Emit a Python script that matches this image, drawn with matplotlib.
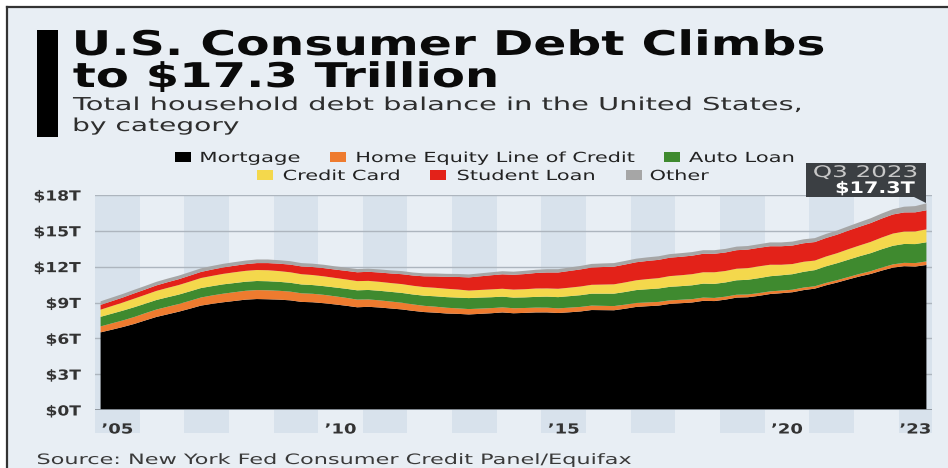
import matplotlib
matplotlib.use("Agg")
import matplotlib.pyplot as plt
from matplotlib.patches import Rectangle, Polygon
from matplotlib.lines import Line2D
from matplotlib.patheffects import AbstractPathEffect
from matplotlib.transforms import Affine2D
import numpy as np

# ---- data: household debt balance by category, $ trillions, quarterly 2005Q1-2023Q3
years_start = 2005
mortgage = [
    6.50, 6.72, 6.95, 7.20,
    7.50, 7.79, 8.01, 8.23,
    8.48, 8.74, 8.89, 9.02,
    9.13, 9.24, 9.29, 9.27,
    9.24, 9.18, 9.05, 9.02,
    8.94, 8.84, 8.73, 8.60,
    8.64, 8.58, 8.50, 8.42,
    8.30, 8.20, 8.15, 8.08,
    8.05, 8.00, 8.05, 8.10,
    8.17, 8.10, 8.13, 8.17,
    8.17, 8.12, 8.18, 8.25,
    8.37, 8.36, 8.35, 8.48,
    8.63, 8.69, 8.74, 8.88,
    8.94, 9.00, 9.14, 9.12,
    9.24, 9.41, 9.44, 9.56,
    9.71, 9.78, 9.86, 10.04,
    10.16, 10.44, 10.67, 10.93,
    11.18, 11.39, 11.67, 11.92,
    12.04, 12.01, 12.14,
]
heloc = [
    0.50, 0.53, 0.55, 0.58,
    0.60, 0.62, 0.63, 0.64,
    0.66, 0.68, 0.70, 0.72,
    0.73, 0.74, 0.75, 0.75,
    0.74, 0.73, 0.72, 0.71,
    0.70, 0.68, 0.66, 0.64,
    0.62, 0.60, 0.58, 0.56,
    0.54, 0.52, 0.50, 0.48,
    0.46, 0.45, 0.44, 0.43,
    0.42, 0.42, 0.41, 0.40,
    0.40, 0.39, 0.39, 0.38,
    0.37, 0.36, 0.35, 0.34,
    0.33, 0.32, 0.31, 0.30,
    0.29, 0.28, 0.27, 0.26,
    0.25, 0.24, 0.23, 0.23,
    0.22, 0.22, 0.21, 0.21,
    0.20, 0.20, 0.20, 0.20,
    0.21, 0.23, 0.25, 0.27,
    0.28, 0.29, 0.30,
]
auto_loan = [
    0.80, 0.81, 0.82, 0.82,
    0.80, 0.80, 0.80, 0.79,
    0.79, 0.79, 0.78, 0.78,
    0.77, 0.76, 0.76, 0.76,
    0.75, 0.74, 0.74, 0.73,
    0.73, 0.74, 0.76, 0.78,
    0.79, 0.80, 0.81, 0.82,
    0.83, 0.85, 0.87, 0.89,
    0.90, 0.92, 0.92, 0.91,
    0.90, 0.89, 0.89, 0.90,
    0.92, 0.94, 0.96, 0.98,
    1.00, 1.02, 1.04, 1.06,
    1.08, 1.10, 1.12, 1.13,
    1.14, 1.16, 1.17, 1.18,
    1.19, 1.21, 1.23, 1.25,
    1.27, 1.28, 1.30, 1.32,
    1.35, 1.39, 1.42, 1.45,
    1.48, 1.51, 1.54, 1.56,
    1.58, 1.59, 1.60,
]
credit_card = [
    0.60, 0.64, 0.68, 0.72,
    0.74, 0.76, 0.78, 0.80,
    0.82, 0.84, 0.86, 0.88,
    0.90, 0.91, 0.92, 0.92,
    0.90, 0.88, 0.86, 0.84,
    0.82, 0.80, 0.78, 0.77,
    0.76, 0.75, 0.74, 0.74,
    0.73, 0.72, 0.71, 0.70,
    0.68, 0.63, 0.64, 0.66,
    0.66, 0.67, 0.68, 0.70,
    0.69, 0.70, 0.71, 0.73,
    0.74, 0.76, 0.78, 0.80,
    0.82, 0.85, 0.87, 0.90,
    0.91, 0.93, 0.95, 0.97,
    0.96, 0.97, 0.98, 0.99,
    0.96, 0.88, 0.85, 0.84,
    0.80, 0.82, 0.84, 0.88,
    0.90, 0.94, 0.98, 1.02,
    1.04, 1.06, 1.08,
]
student_loan = [
    0.40, 0.41, 0.42, 0.44,
    0.45, 0.46, 0.48, 0.49,
    0.50, 0.51, 0.53, 0.54,
    0.55, 0.56, 0.58, 0.60,
    0.62, 0.64, 0.65, 0.67,
    0.69, 0.70, 0.72, 0.74,
    0.76, 0.78, 0.80, 0.83,
    0.86, 0.90, 0.95, 1.00,
    1.05, 1.10, 1.14, 1.18,
    1.21, 1.24, 1.27, 1.30,
    1.33, 1.36, 1.40, 1.43,
    1.45, 1.47, 1.48, 1.50,
    1.51, 1.52, 1.53, 1.54,
    1.55, 1.55, 1.55, 1.55,
    1.55, 1.55, 1.55, 1.55,
    1.55, 1.55, 1.55, 1.55,
    1.55, 1.55, 1.55, 1.56,
    1.57, 1.58, 1.59, 1.60,
    1.60, 1.60, 1.60,
]
other = [
    0.30, 0.30, 0.30, 0.30,
    0.30, 0.30, 0.30, 0.30,
    0.30, 0.30, 0.30, 0.30,
    0.30, 0.30, 0.30, 0.30,
    0.29, 0.29, 0.28, 0.28,
    0.28, 0.27, 0.27, 0.27,
    0.26, 0.26, 0.26, 0.26,
    0.25, 0.25, 0.25, 0.25,
    0.25, 0.25, 0.25, 0.25,
    0.26, 0.26, 0.27, 0.27,
    0.28, 0.28, 0.29, 0.29,
    0.30, 0.30, 0.30, 0.30,
    0.30, 0.30, 0.30, 0.30,
    0.30, 0.30, 0.30, 0.30,
    0.30, 0.30, 0.30, 0.30,
    0.32, 0.32, 0.33, 0.33,
    0.33, 0.34, 0.35, 0.36,
    0.38, 0.40, 0.42, 0.44,
    0.48, 0.52, 0.58,
]
categories = ["Mortgage", "Home Equity Line of Credit", "Auto Loan",
              "Credit Card", "Student Loan", "Other"]
colors = ["#000000", "#ee7b2f", "#3f8a2f", "#f4d84c", "#e32219", "#a6a6a6"]

y_ticks = [0, 3, 6, 9, 12, 15, 18]
y_tick_labels = ["$0T", "$3T", "$6T", "$9T", "$12T", "$15T", "$18T"]
x_tick_pos = [2005.5, 2010.5, 2015.5, 2020.5, 2023.375]
x_tick_labels = ["\u201905", "\u201910", "\u201915", "\u201920", "\u201923"]
callout_period = "Q3 2023"
callout_total = 17.3

n = len(mortgage)
t = years_start + 0.125 + np.arange(n) * 0.25

W, H = 948, 468
BG = "#e8eef4"
BAND = "#d8e2ec"
FONT = "DejaVu Sans"


def fx(px):
    return px / W


def fy(py):
    return 1 - py / H


class Stretch(AbstractPathEffect):
    """Widen glyphs horizontally, either by a factor or to a set pixel width."""

    def __init__(self, sx=None, width=None, anchor="left"):
        super().__init__()
        self.sx, self.width, self.anchor = sx, width, anchor

    def draw_path(self, renderer, gc, tpath, affine, rgbFace=None):
        ext = tpath.get_extents(affine)
        w = max(ext.x1 - ext.x0, 1e-6)
        sx = self.sx if self.width is None else self.width * renderer.dpi / 100 / w
        if self.anchor == "left":
            x0 = ext.x0
        elif self.anchor == "right":
            x0 = ext.x1
        else:
            x0 = 0.5 * (ext.x0 + ext.x1)
        aff = affine + Affine2D().translate(-x0, 0).scale(sx, 1).translate(x0, 0)
        renderer.draw_path(gc, tpath, aff, rgbFace)


def label(x, y, s, width=None, sx=None, ha="left", **kw):
    txt = fig.text(fx(x), fy(y), s, ha=ha, va="baseline", family=FONT, **kw)
    txt.set_path_effects([Stretch(sx=sx, width=width, anchor=ha)])
    return txt


fig = plt.figure(figsize=(W / 100, H / 100), dpi=100, facecolor="white")

# card background with dark top/left rule
fig.patches.append(Rectangle((fx(7), 0), 1 - fx(7), fy(7), transform=fig.transFigure,
                             facecolor=BG, edgecolor="none", zorder=-10))
fig.add_artist(Line2D([fx(7), 1], [fy(7), fy(7)], color="#333333", lw=1.6))
fig.add_artist(Line2D([fx(7), fx(7)], [0, fy(7)], color="#333333", lw=1.6))

# title block
fig.patches.append(Rectangle((fx(37), fy(137)), fx(58) - fx(37), fy(30) - fy(137),
                             transform=fig.transFigure, facecolor="black",
                             edgecolor="none"))
label(73, 55, "U.S. Consumer Debt Climbs", width=747, fontsize=24.5,
      fontweight="bold", color="#0a0a0a")
label(73, 87, "to $17.3 Trillion", width=422, fontsize=24.5,
      fontweight="bold", color="#0a0a0a")
label(73, 110, "Total household debt balance in the United States,", width=727,
      fontsize=12.8, color="#2e2e2e")
label(73, 131, "by category", width=164, fontsize=12.8, color="#2e2e2e")

# legend, two centred rows of swatches
legend_rows = [
    # (swatch left, text left, text width)
    [(175, 200, 98), (330, 356, 277), (664, 689, 104)],
    [(257, 283, 115), (430, 457, 136), (626, 650, 58)],
]
row_y = [157, 175]
k = 0
for row, yc in zip(legend_rows, row_y):
    for sw_x, tx, tw in row:
        fig.patches.append(Rectangle((fx(sw_x), fy(yc + 5)), fx(16), 10 / H,
                                     transform=fig.transFigure,
                                     facecolor=colors[k], edgecolor="none"))
        label(tx, yc + 5, categories[k], width=tw, fontsize=10, color="#222222")
        k += 1

# chart area
ax = fig.add_axes([fx(95), fy(410), fx(932) - fx(95), fy(195) - fy(410)])
ax.set_facecolor("none")
ax.set_xlim(2005, 2023.75)
ax.set_ylim(0, 18)

# alternating year bands, running below the axis into the tick-label row
for yr in range(2005, 2024, 2):
    x1 = min(yr + 1, 2023.75)
    ax.add_patch(Rectangle((yr, -0.107), x1 - yr, 1.107,
                           transform=ax.get_xaxis_transform(), facecolor=BAND,
                           edgecolor="none", clip_on=False, zorder=0))

for v in y_ticks[1:]:
    ax.axhline(v, color="#adb5be", lw=1.0, zorder=1)
ax.axhline(0, color="#8c949c", lw=1.3, zorder=3)

ax.stackplot(t, mortgage, heloc, auto_loan, credit_card, student_loan, other,
             colors=colors, labels=categories, edgecolor="none", zorder=2)

for s in ax.spines.values():
    s.set_visible(False)
ax.set_yticks(y_ticks)
ax.set_yticklabels(y_tick_labels, fontsize=10, fontweight="bold", color="#333333",
                   family=FONT)
ax.set_xticks(x_tick_pos)
ax.set_xticklabels(x_tick_labels, fontsize=10, fontweight="bold", color="#333333",
                   family=FONT)
ax.tick_params(length=0)
ax.tick_params(axis="y", pad=10)
ax.tick_params(axis="x", pad=9)
for lbl in ax.get_yticklabels():
    lbl.set_path_effects([Stretch(sx=1.23, anchor="right")])
for lbl in ax.get_xticklabels():
    lbl.set_path_effects([Stretch(sx=1.3, anchor="center")])

# callout for the latest total
box_l, box_r, box_t, box_b = 806, 926, 163, 197
fig.patches.append(Rectangle((fx(box_l), fy(box_b)), fx(box_r) - fx(box_l),
                             fy(box_t) - fy(box_b), transform=fig.transFigure,
                             facecolor="#3b3f43", edgecolor="none", zorder=5))
fig.patches.append(Polygon([(fx(box_r - 12), fy(box_b)), (fx(box_r), fy(box_b)),
                            (fx(box_r), fy(box_b + 6))], closed=True,
                           transform=fig.transFigure, facecolor="#3b3f43",
                           edgecolor="none", zorder=5))
label(917, 177, callout_period, width=102, ha="right", fontsize=11.5,
      color="#c8c8c8", zorder=6)
label(915, 193, f"${callout_total:.1f}T", width=78, ha="right", fontsize=11.5,
      fontweight="bold", color="white", zorder=6)

# source line
label(37, 464, "Source: New York Fed Consumer Credit Panel/Equifax", width=593,
      fontsize=10.3, color="#3a3a3a")

fig.savefig("out.png", dpi=100, facecolor="white")
